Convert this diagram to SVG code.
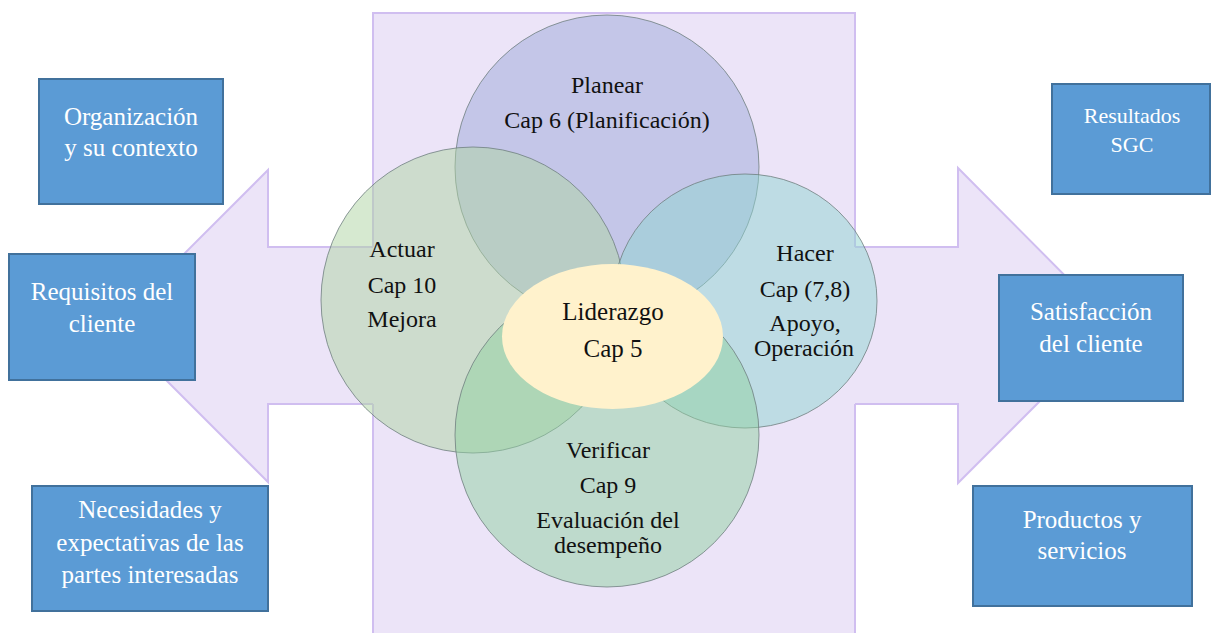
<svg xmlns="http://www.w3.org/2000/svg" width="1211" height="633" viewBox="0 0 1211 633">
<style>
.bg{fill:#ECE4F8;stroke:#D0BEF0;stroke-width:2}
.arrfill{fill:#ECE4F8;stroke:none}
.arrline{fill:none;stroke:#D0BEF0;stroke-width:2}
.circ{fill-opacity:0.5;stroke:#6F8080;stroke-opacity:0.8;stroke-width:1}
.box{fill:#5B9BD5;stroke:#41719C;stroke-width:2}
text{font-family:'Liberation Serif','Times New Roman',serif;text-anchor:middle}
.wt{font-size:25px;fill:#FFFFFF}
.wts{font-size:22px;fill:#FFFFFF}
.bt{font-size:24px;fill:#111111}
.lt{font-size:25px;fill:#111111}
</style>
<rect width="1211" height="633" fill="#FFFFFF"/>
<g id="background">
<rect class="bg" x="373" y="13" width="482" height="640"/>
</g>
<g id="connectors">
<polygon class="arrfill" points="376,247 268,247 268,170 112,326 268,482 268,404 376,404"/>
<polyline class="arrline" points="373,247 268,247 268,170 112,326 268,482 268,404 373,404"/>
<polygon class="arrfill" points="852,247 958,247 958,168 1115,326 958,483 958,404 852,404"/>
<polyline class="arrline" points="855,247 958,247 958,168 1115,326 958,483 958,404 855,404"/>
</g>
<g id="planear">
<ellipse class="circ" cx="607" cy="167" rx="152" ry="152" fill="#9BA7D7"/>
<text class="bt" x="607" y="93">Planear</text>
<text class="bt" x="607" y="128">Cap 6 (Planificación)</text>
</g>
<g id="actuar">
<ellipse class="circ" cx="473" cy="300" rx="152" ry="153" fill="#ADD3A1"/>
<text class="bt" x="402" y="257">Actuar</text>
<text class="bt" x="402" y="293">Cap 10</text>
<text class="bt" x="402" y="327">Mejora</text>
</g>
<g id="hacer">
<ellipse class="circ" cx="745" cy="301" rx="132" ry="127" fill="#8FD3CF"/>
<text class="bt" x="805" y="261">Hacer</text>
<text class="bt" x="805" y="297">Cap (7,8)</text>
<text class="bt" x="805" y="331">Apoyo,</text>
<text class="bt" x="804" y="356">Operación</text>
</g>
<g id="verificar">
<ellipse class="circ" cx="607" cy="435" rx="152" ry="152" fill="#8FCF9F"/>
<text class="bt" x="608" y="458">Verificar</text>
<text class="bt" x="608" y="493">Cap 9</text>
<text class="bt" x="608" y="528">Evaluación del</text>
<text class="bt" x="608" y="553">desempeño</text>
</g>
<g id="liderazgo">
<ellipse cx="612.5" cy="336.5" rx="110.5" ry="72.5" fill="#FFF2CC"/>
<text class="lt" x="613" y="320">Liderazgo</text>
<text class="lt" x="613" y="357">Cap 5</text>
</g>
<g id="organizacion">
<rect class="box" x="39" y="79" width="184" height="125"/>
<text class="wt" x="131" y="125">Organización</text>
<text class="wt" x="131" y="156">y su contexto</text>
</g>
<g id="requisitos">
<rect class="box" x="9" y="254" width="186" height="126"/>
<text class="wt" x="102" y="300">Requisitos del</text>
<text class="wt" x="102" y="332">cliente</text>
</g>
<g id="necesidades">
<rect class="box" x="32" y="486" width="236" height="125"/>
<text class="wt" x="150" y="518">Necesidades y</text>
<text class="wt" x="150" y="551">expectativas de las</text>
<text class="wt" x="150" y="583">partes interesadas</text>
</g>
<g id="resultados">
<rect class="box" x="1052" y="84" width="158" height="110"/>
<text class="wts" x="1132" y="123">Resultados</text>
<text class="wts" x="1132" y="152">SGC</text>
</g>
<g id="satisfaccion">
<rect class="box" x="999" y="275" width="184" height="126"/>
<text class="wt" x="1091" y="320">Satisfacción</text>
<text class="wt" x="1091" y="352">del cliente</text>
</g>
<g id="productos">
<rect class="box" x="973" y="486" width="219" height="120"/>
<text class="wt" x="1082" y="528">Productos y</text>
<text class="wt" x="1082" y="559">servicios</text>
</g>
</svg>
